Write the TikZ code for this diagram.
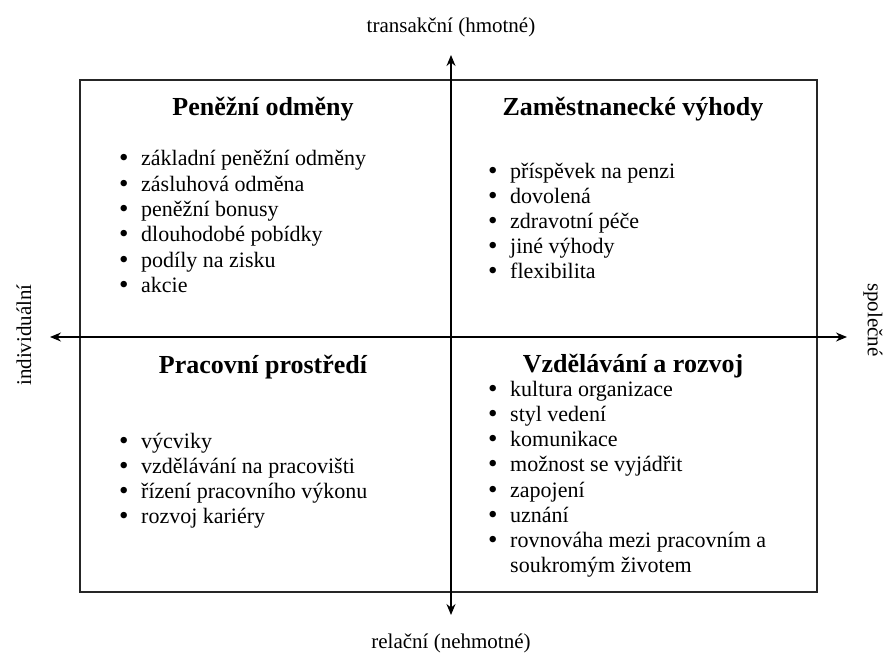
\documentclass[tikz,border=0pt]{standalone}
\usepackage{fontspec}
\setmainfont{Liberation Serif}
\usetikzlibrary{arrows.meta}
\newcommand\bu{\makebox[22pt][l]{\raisebox{-1.2pt}{\fontsize{27}{27}\selectfont\textbullet}}}
\begin{document}
\begin{tikzpicture}[x=1pt,y=-1pt,
  qtitle/.style={font=\fontsize{26}{30}\selectfont\bfseries, anchor=base, inner sep=0pt},
  itemtext/.style={font=\fontsize{22}{25}\selectfont, anchor=base west, inner sep=0pt},
  axislabel/.style={font=\fontsize{21}{24}\selectfont, inner sep=0pt},
  axis/.style={line width=1.4pt, -{Stealth[length=11pt,width=9pt]}},
  frame/.style={line width=1.6pt, draw=black!85}]
\useasboundingbox (0,0) rectangle (884,659);
\draw[frame] (80,80) rectangle (817,592);
% axes
\coordinate (c) at (451,337);
\coordinate (n) at (451,55);
\coordinate (s) at (451,615);
\coordinate (w) at (50,337);
\coordinate (e) at (847,337);
\draw[axis] (c) -- (n);
\draw[axis] (c) -- (s);
\draw[axis] (c) -- (w);
\draw[axis] (c) -- (e);
% axis labels
\node[axislabel, anchor=base] (ln) at (451,32) {transakční (hmotné)};
\node[axislabel, anchor=base] (ls) at (451,648) {relační (nehmotné)};
\node[axislabel, rotate=90] (lw) at (24,335) {individuální};
\node[axislabel, rotate=-90] (le) at (873,320) {společné};
% titles
\node[qtitle] (t1) at (263,115) {Peněžní odměny};
\node[qtitle] (t2) at (633,115) {Zaměstnanecké výhody};
\node[qtitle] (t3) at (263,373) {Pracovní prostředí};
\node[qtitle] (t4) at (633,372) {Vzdělávání a rozvoj};
% top-left
\node[itemtext] (a1) at (119,165) {\bu základní peněžní odměny};
\node[itemtext] (a2) at (119,191) {\bu zásluhová odměna};
\node[itemtext] (a3) at (119,216) {\bu peněžní bonusy};
\node[itemtext] (a4) at (119,241) {\bu dlouhodobé pobídky};
\node[itemtext] (a5) at (119,267) {\bu podíly na zisku};
\node[itemtext] (a6) at (119,292) {\bu akcie};
% top-right
\node[itemtext] (b1) at (488,178) {\bu příspěvek na penzi};
\node[itemtext] (b2) at (488,203) {\bu dovolená};
\node[itemtext] (b3) at (488,228) {\bu zdravotní péče};
\node[itemtext] (b4) at (488,253) {\bu jiné výhody};
\node[itemtext] (b5) at (488,278) {\bu flexibilita};
% bottom-left
\node[itemtext] (c1) at (119,448) {\bu výcviky};
\node[itemtext] (c2) at (119,473) {\bu vzdělávání na pracovišti};
\node[itemtext] (c3) at (119,498) {\bu řízení pracovního výkonu};
\node[itemtext] (c4) at (119,523) {\bu rozvoj kariéry};
% bottom-right
\node[itemtext] (d1) at (488,396) {\bu kultura organizace};
\node[itemtext] (d2) at (488,421) {\bu styl vedení};
\node[itemtext] (d3) at (488,446) {\bu komunikace};
\node[itemtext] (d4) at (488,471) {\bu možnost se vyjádřit};
\node[itemtext] (d5) at (488,497) {\bu zapojení};
\node[itemtext] (d6) at (488,522) {\bu uznání};
\node[itemtext] (d7) at (488,547) {\bu rovnováha mezi pracovním a};
\node[itemtext] (d8) at (488,572) {\makebox[22pt]{}soukromým životem};
\end{tikzpicture}
\end{document}
